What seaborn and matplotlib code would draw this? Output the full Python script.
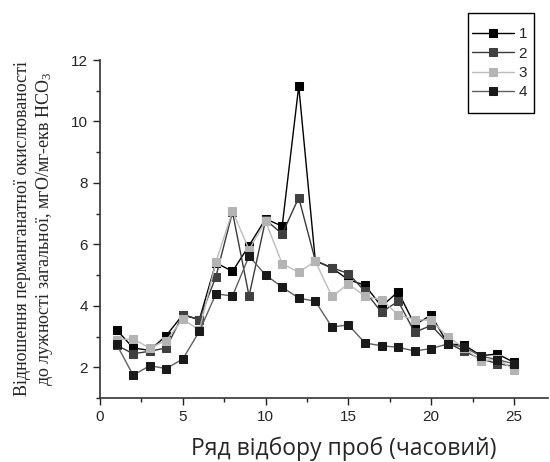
import matplotlib
matplotlib.use("Agg")
import matplotlib.pyplot as plt
from matplotlib.patches import Rectangle
from matplotlib.ticker import MultipleLocator
import pandas as pd
import seaborn as sns

# номер проби (часовий відбір)
samples = list(range(1, 26))

# відношення перманганатної окислюваності до лужності, по серіях
s1 = [3.22, 2.63, 2.55, 3.03, 3.71, 3.55, 5.40, 5.12, 5.96, 6.83, 6.59, 11.15, 5.47,
      5.23, 4.85, 4.67, 3.98, 4.46, 3.38, 3.70, 2.76, 2.72, 2.38, 2.43, 2.16]
s2 = [2.72, 2.44, 2.52, 2.63, 3.71, 3.55, 4.95, 7.05, 4.32, 6.80, 6.34, 7.52, 5.47,
      5.24, 5.05, 4.47, 3.79, 4.15, 3.14, 3.36, 2.79, 2.52, 2.27, 2.12, 2.03]
s3 = [2.90, 2.92, 2.63, 2.87, 3.57, 3.20, 5.43, 7.08, 5.83, 6.75, 5.37, 5.09, 5.45,
      4.31, 4.71, 4.31, 4.20, 3.71, 3.55, 3.53, 2.99, 2.63, 2.20, 2.27, 1.92]
s4 = [2.75, 1.74, 2.05, 1.96, 2.27, 3.17, 4.39, 4.32, 5.62, 5.00, 4.61, 4.25, 4.15,
      3.31, 3.38, 2.79, 2.70, 2.65, 2.53, 2.61, 2.76, 2.65, 2.36, 2.25, 2.11]

series_names = ["1", "2", "3", "4"]
series_vals = [s1, s2, s3, s4]
line_cols = ["#000000", "#3a3a3a", "#bcbcbc", "#606060"]
mark_cols = ["#000000", "#404040", "#b4b4b4", "#1a1a1a"]

sns.set_style("ticks")
plt.rcParams["font.family"] = ["Liberation Sans", "DejaVu Sans"]
plt.rcParams["mathtext.fontset"] = "custom"
plt.rcParams["mathtext.rm"] = "Liberation Serif"
plt.rcParams["mathtext.it"] = "Liberation Serif"

fig = plt.figure(figsize=(5.5, 4.62), dpi=100)
ax = fig.add_axes([100 / 550, 1 - 398 / 462, 448 / 550, 338 / 462])

for name, vals, lc, mc in zip(series_names, series_vals, line_cols, mark_cols):
    df = pd.DataFrame({"x": samples, "y": vals})
    sns.lineplot(data=df, x="x", y="y", ax=ax, color=lc, lw=1.0, marker="s",
                 markersize=5.5, markerfacecolor=mc, markeredgecolor=mc,
                 label=name, legend=False)

ax.set_xlim(0, 27.05)
ax.set_ylim(1, 12)
ax.xaxis.set_major_locator(MultipleLocator(5))
ax.xaxis.set_minor_locator(MultipleLocator(2.5))
ax.yaxis.set_major_locator(MultipleLocator(2))
ax.yaxis.set_minor_locator(MultipleLocator(1))
ax.tick_params(which="major", direction="out", length=5, width=1, labelsize=11, color="#222222")
ax.tick_params(which="minor", direction="out", length=3, width=1, color="#222222")
for sp in ["top", "right"]:
    ax.spines[sp].set_visible(False)
for sp in ["left", "bottom"]:
    ax.spines[sp].set_linewidth(1.2)
    ax.spines[sp].set_color("#333333")

ax.set_xlabel("Ряд відбору проб (часовий)", family=["Open Sans", "DejaVu Sans"], fontsize=16.5)
ax.xaxis.set_label_coords(0.545, -0.113)
ax.set_ylabel("Відношення перманганатної окислюваності\nдо лужності загальної, мгО/мг-екв НСО$_3$",
              family=["Liberation Serif", "DejaVu Serif"], fontsize=13, linespacing=1.2)
ax.yaxis.set_label_coords(-0.10, 0.5)

# легенда у стилі Origin: рамка окремо, з полями зверху і знизу
handles, labels = ax.get_legend_handles_labels()
leg = fig.legend(handles, labels, loc="upper left", bbox_to_anchor=(472 / 550, 1 - 27 / 462),
                 frameon=False, fontsize=11, handlelength=2.75,
                 handletextpad=0.3, labelspacing=0.36, borderpad=0, borderaxespad=0)
fig.add_artist(Rectangle((468 / 550, 1 - 113 / 462), 66 / 550, 100 / 462,
                         transform=fig.transFigure, fill=False, edgecolor="black", lw=1.0))

fig.savefig("out.png", dpi=100)
